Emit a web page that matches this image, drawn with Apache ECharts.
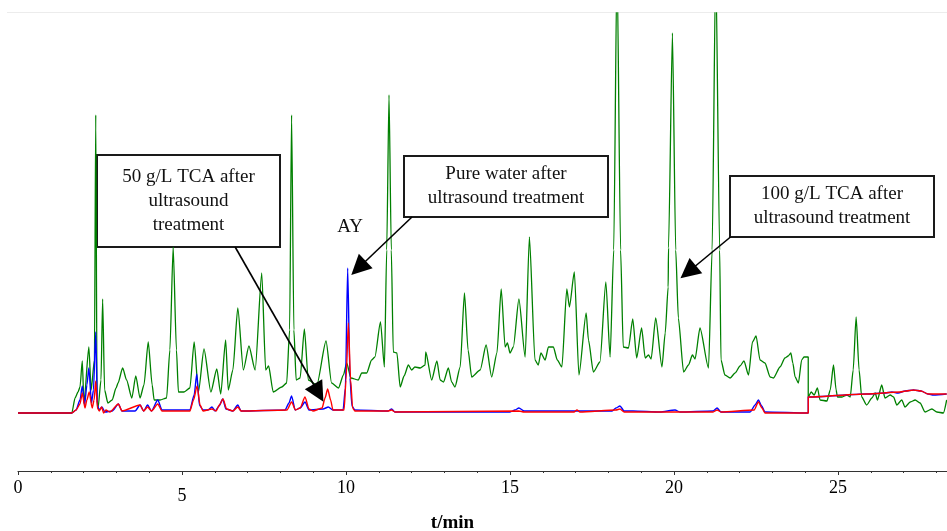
<!DOCTYPE html>
<html>
<head>
<meta charset="utf-8">
<title>chromatogram</title>
<script src="https://cdn.jsdelivr.net/npm/echarts@6.0.0/dist/echarts.min.js"></script>
<style>
  html, body { margin: 0; padding: 0; background: #fff; }
  #chroma-chart { width: 947px; height: 531px; }
</style>
</head>
<body>
<div id="chroma-chart"></div>
<script>
/************************** 数据 **************************/
// [t/min, signal]  signal = height above the flat baseline (arbitrary units)

// green: 100 g/L TCA after ultrasound treatment
var tca100 = [
    [0, 0], [1.64, 0], [1.74, 15], [1.83, 21], [1.89, 26], [1.96, 52], [2.01, 10],
    [2.16, 66], [2.23, 23], [2.33, 53], [2.37, 298], [2.41, 13], [2.44, 5], [2.53, 33],
    [2.58, 114], [2.64, 23], [2.74, 10], [2.87, 13], [2.99, 25], [3.05, 30], [3.19, 45],
    [3.31, 33], [3.47, 15], [3.59, 37], [3.72, 15], [3.84, 28], [3.97, 71], [4.09, 28],
    [4.15, 13], [4.33, 13], [4.53, 15], [4.63, 63], [4.73, 166], [4.83, 63], [4.89, 21],
    [5.06, 21], [5.24, 25], [5.37, 71], [5.50, 21], [5.67, 64], [5.88, 21], [6.06, 44],
    [6.18, 19], [6.33, 73], [6.41, 23], [6.55, 43], [6.70, 105], [6.87, 43], [7.04, 67],
    [7.23, 43], [7.43, 140], [7.55, 43], [7.64, 47], [7.78, 21], [8.04, 26], [8.19, 30],
    [8.28, 83], [8.34, 298], [8.41, 83], [8.48, 33], [8.60, 35], [8.73, 84], [8.85, 33],
    [9.11, 28], [9.39, 72], [9.56, 30], [9.77, 25], [9.92, 38], [10.02, 50], [10.15, 35],
    [10.37, 33], [10.48, 40], [10.63, 40], [10.78, 53], [10.88, 56], [11.05, 91], [11.17, 46],
    [11.24, 163], [11.31, 318], [11.38, 163], [11.44, 61], [11.55, 60], [11.65, 26], [11.77, 37],
    [11.90, 48], [12.00, 43], [12.10, 46], [12.26, 45], [12.41, 48], [12.43, 61], [12.61, 33],
    [12.77, 52], [12.87, 33], [12.97, 31], [13.12, 45], [13.22, 31], [13.32, 26], [13.48, 46],
    [13.61, 120], [13.72, 63], [13.83, 36], [14.09, 43], [14.27, 68], [14.44, 36], [14.60, 60],
    [14.73, 124], [14.85, 66], [14.92, 70], [15.00, 60], [15.10, 66], [15.27, 114], [15.46, 56],
    [15.59, 176], [15.76, 53], [15.86, 48], [15.94, 60], [16.07, 53], [16.17, 66], [16.32, 66],
    [16.44, 53], [16.58, 46], [16.73, 124], [16.81, 106], [16.96, 141], [17.10, 38], [17.32, 100],
    [17.39, 73], [17.54, 41], [17.74, 51], [17.92, 131], [18.05, 56], [18.16, 163], [18.26, 450],
    [18.37, 163], [18.45, 66], [18.61, 65], [18.74, 94], [18.86, 55], [19.01, 85], [19.12, 55],
    [19.22, 58], [19.30, 54], [19.44, 95], [19.63, 46], [19.73, 80], [19.82, 126], [19.83, 165],
    [19.95, 380], [20.05, 163], [20.13, 95], [20.29, 41], [20.44, 48], [20.56, 58], [20.64, 54],
    [20.79, 85], [21.05, 45], [21.16, 163], [21.27, 450], [21.39, 163], [21.43, 53], [21.55, 38],
    [21.71, 35], [21.86, 40], [22.01, 47], [22.13, 52], [22.27, 38], [22.39, 71], [22.50, 77],
    [22.62, 53], [22.77, 50], [22.93, 36], [23.03, 35], [23.23, 46], [23.38, 55], [23.48, 57],
    [23.56, 60], [23.62, 50], [23.69, 36], [23.79, 30], [23.89, 53], [23.96, 56], [24.09, 56],
    [24.09, 16], [24.18, 21], [24.27, 18], [24.37, 25], [24.45, 13], [24.66, 12], [24.76, 23],
    [24.86, 48], [24.94, 23], [24.98, 16], [25.12, 16], [25.27, 18], [25.37, 16], [25.46, 43],
    [25.55, 96], [25.64, 43], [25.72, 16], [25.87, 8], [26.03, 15], [26.13, 20], [26.20, 13],
    [26.33, 28], [26.43, 15], [26.59, 18], [26.69, 16], [26.79, 8], [26.94, 13], [27.04, 6],
    [27.20, 11], [27.35, 13], [27.50, 10], [27.65, 1], [27.86, 4], [28.01, 1], [28.21, 0],
    [28.31, 13]
];

// blue: pure water after ultrasound treatment
var pureWater = [
    [0, 0], [1.64, 0], [1.77, 3], [1.89, 13], [1.96, 27], [2.03, 8], [2.10, 28], [2.16, 45],
    [2.24, 10], [2.30, 23], [2.37, 81], [2.42, 8], [2.47, 3], [2.56, 6], [2.65, 1], [2.87, 2],
    [3.06, 9], [3.17, 2], [3.57, 2], [3.72, 8], [3.83, 2], [3.95, 8], [4.07, 2], [4.26, 13],
    [4.39, 3], [5.24, 3], [5.37, 18], [5.45, 39], [5.53, 8], [5.64, 3], [5.79, 3], [5.91, 6],
    [6.01, 2], [6.13, 7], [6.24, 14], [6.34, 4], [6.55, 2], [6.70, 8], [6.80, 2], [8.14, 3],
    [8.26, 10], [8.34, 17], [8.45, 3], [8.60, 5], [8.75, 11], [8.87, 3], [9.30, 4], [9.46, 6],
    [9.60, 3], [9.91, 3], [9.98, 25], [10.05, 145], [10.12, 35], [10.18, 7], [10.27, 3],
    [11.28, 2], [11.39, 4], [11.49, 1], [15.00, 1], [15.15, 3], [15.27, 5], [15.43, 2],
    [17.44, 2], [18.11, 2], [18.23, 5], [18.35, 7], [18.48, 2], [18.75, 2], [19.57, 1],
    [20.03, 3], [20.18, 1], [21.19, 2], [21.31, 5], [21.43, 1], [22.32, 1], [22.47, 8],
    [22.57, 13], [22.67, 7], [22.77, 1], [24.09, 0], [24.09, 16], [25.87, 19], [26.43, 20],
    [26.64, 21], [26.83, 20], [27.04, 22], [27.30, 23], [27.53, 22], [27.74, 19], [27.91, 18],
    [28.31, 19]
];

// red: 50 g/L TCA after ultrasound treatment
var tca50 = [
    [0, 0], [1.64, 0], [1.77, 3], [1.89, 9], [1.96, 20], [2.04, 5], [2.10, 13], [2.17, 21],
    [2.26, 5], [2.32, 13], [2.37, 32], [2.42, 5], [2.48, 2], [2.55, 6], [2.61, 0], [2.68, 3],
    [2.80, 1], [3.06, 9], [3.17, 2], [3.72, 8], [3.83, 2], [3.95, 6], [4.07, 2], [4.26, 9],
    [4.39, 2], [5.24, 2], [5.35, 13], [5.46, 27], [5.55, 8], [5.64, 2], [5.91, 4], [6.04, 2],
    [6.14, 8], [6.25, 14], [6.36, 4], [6.55, 2], [6.70, 6], [6.80, 2], [8.20, 3], [8.34, 11],
    [8.46, 3], [8.60, 5], [8.75, 16], [8.87, 4], [8.99, 2], [9.27, 5], [9.36, 15], [9.44, 24],
    [9.53, 13], [9.60, 3], [9.94, 3], [10.00, 33], [10.07, 90], [10.14, 33], [10.20, 5],
    [10.27, 2], [11.28, 2], [11.39, 3], [11.49, 1], [15.27, 2], [15.43, 1], [16.95, 1],
    [17.04, 3], [17.13, 1], [18.23, 3], [18.35, 4], [18.48, 1], [21.19, 1], [21.31, 3],
    [21.43, 1], [22.44, 3], [22.57, 11], [22.68, 5], [22.77, 0], [24.09, 0], [24.09, 16],
    [25.87, 19], [26.89, 21], [27.07, 22], [27.30, 23], [27.53, 22], [27.74, 19], [28.31, 19]
];

var seriesNames = ['100 g/L TCA after ultrasound treatment', 'Pure water after ultrasound treatment', '50 g/L TCA after ultrasound treatment'];
var seriesColors = ['#008000', '#0000ff', '#ff0000'];

var xMax = 28.32;
var yMin = -58, yMax = 400;
var lowLabel = 5;          // on the original the "5" sits a bit lower than the others

// annotation arrows, [from, to] in data coords
var arrows = [
    [[6.62, 166], [9.16, 20]],
    [[12.01, 196], [10.38, 145]],
    [[21.72, 176], [20.43, 141]]
];

var serif = '"Liberation Serif", "Times New Roman", serif';

/************************** 注释框 **************************/
function noteBox(x, y, w, h, text) {
    return {
        type: 'group',
        z: 100,
        children: [
            {
                type: 'rect',
                shape: { x: x, y: y, width: w, height: h },
                style: { fill: '#fff', stroke: '#1a1a1a', lineWidth: 2 }
            },
            {
                type: 'text',
                x: x + w / 2,
                y: y + h / 2,
                style: {
                    text: text,
                    font: '19px ' + serif,
                    fill: '#111',
                    align: 'center', verticalAlign: 'middle',
                    textAlign: 'center', textVerticalAlign: 'middle',
                    lineHeight: 24
                }
            }
        ]
    };
}

/************************** 色谱图 **************************/
chroma = document.getElementById('chroma-chart');

var seriesData = [tca100, pureWater, tca50];
var series = seriesData.map(function (d, i) {
    return {
        name: seriesNames[i],
        type: 'line',
        data: d,
        symbol: 'none',
        smooth: 0.22,
        smoothMonotone: 'x',
        clip: true,
        lineStyle: { color: seriesColors[i], width: i === 0 ? 1.3 : 1.4 },
        itemStyle: { color: seriesColors[i] },
        z: 2 + i
    };
});

series[2].markLine = {
    silent: true,
    symbol: ['none', 'triangle'],
    symbolSize: 20,
    label: { show: false },
    lineStyle: { color: '#000', width: 1.6, type: 'solid' },
    itemStyle: { color: '#000' },
    data: arrows.map(function (a) {
        return [{ coord: a[0] }, { coord: a[1] }];
    })
};

optionChroma = {
    animation: false,
    backgroundColor: '#fff',
    grid: { left: 18, right: 0, top: 13, bottom: 60, outerBoundsMode: 'none', containLabel: false },
    xAxis: [
        {
            type: 'value',
            position: 'bottom',
            min: 0,
            max: xMax,
            interval: 5,
            name: 't/min',
            nameLocation: 'middle',
            nameGap: 43,
            nameTextStyle: {
                fontFamily: serif, fontSize: 19, fontWeight: 'bold', color: '#000',
                padding: [0, 60, 0, 0]
            },
            axisLine: { onZero: false, lineStyle: { color: '#333', width: 1.2 } },
            axisTick: { length: 4, lineStyle: { color: '#333' } },
            axisLabel: {
                margin: 8,
                fontFamily: serif, fontSize: 18, color: '#000',
                showMaxLabel: false,
                formatter: function (v) {
                    if (v % 5 !== 0) return '';
                    return v === lowLabel ? '{low|' + v + '}' : String(v);
                },
                rich: { low: { fontFamily: serif, fontSize: 18, color: '#000', padding: [8, 0, 0, 0] } }
            },
            splitLine: { show: false }
        },
        {
            // minor 1-min ticks
            type: 'value',
            position: 'bottom',
            min: 0,
            max: xMax,
            interval: 1,
            axisLine: { show: false, onZero: false },
            axisTick: { length: 2, lineStyle: { color: '#333' } },
            axisLabel: { show: false },
            splitLine: { show: false }
        }
    ],
    yAxis: {
        type: 'value',
        min: yMin,
        max: yMax,
        show: false,
        splitLine: { show: false }
    },
    series: series,
    graphic: [
        { type: 'line', shape: { x1: 7, y1: 12.5, x2: 947, y2: 12.5 }, style: { stroke: '#ececec', lineWidth: 1 } },
        noteBox(97, 155, 183, 92, '50 g/L TCA after\nultrasound\ntreatment'),
        noteBox(404, 156, 204, 61, 'Pure water after\nultrasound treatment'),
        noteBox(730, 176, 204, 61, '100 g/L TCA after\nultrasound treatment'),
        {
            type: 'text', x: 350, y: 227, z: 100,
            style: {
                text: 'AY', font: '19px ' + serif, fill: '#111',
                align: 'center', verticalAlign: 'middle',
                textAlign: 'center', textVerticalAlign: 'middle'
            }
        }
    ]
};

myChroma = echarts.init(chroma);
myChroma.setOption(optionChroma);

window.addEventListener("resize", function () {
    myChroma.resize();
});
</script>
</body>
</html>
